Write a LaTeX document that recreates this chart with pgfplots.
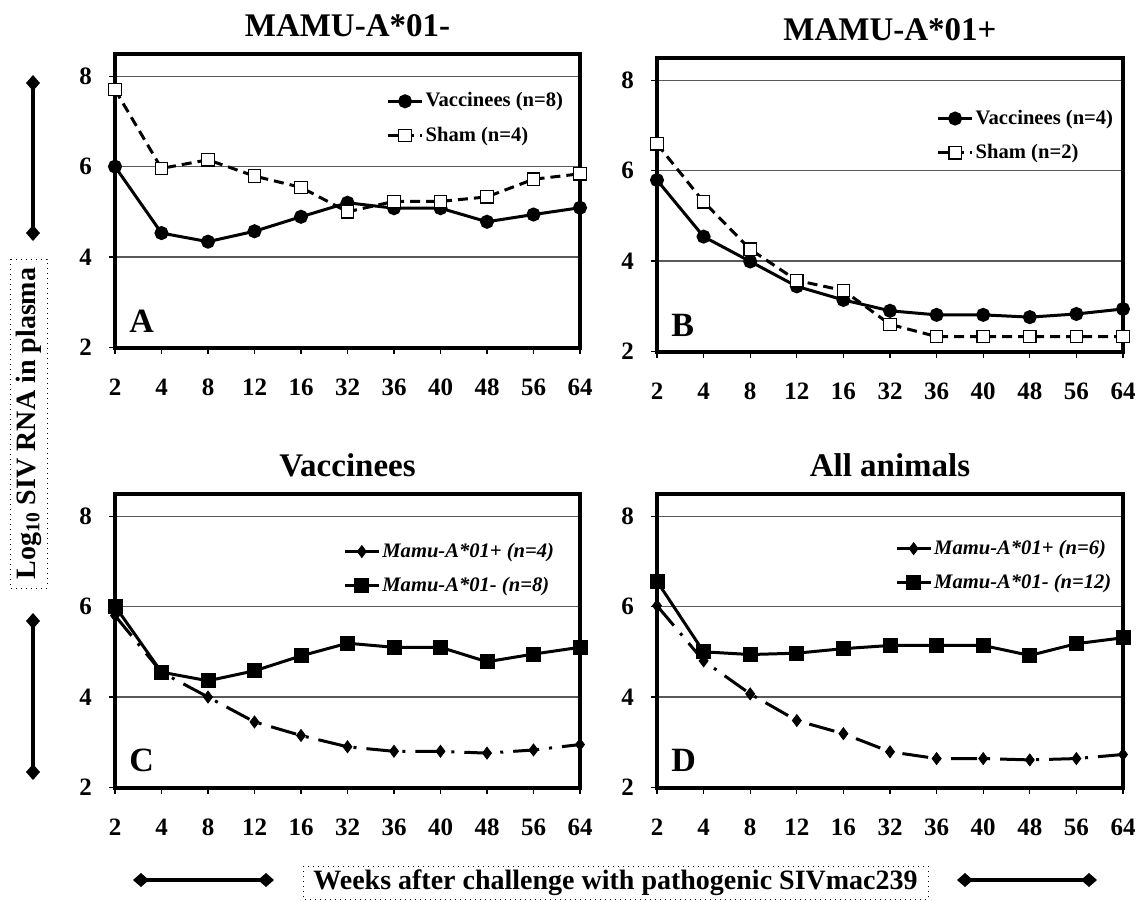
\documentclass[border=0pt]{standalone}
\usepackage{fontspec}
\setmainfont{Liberation Serif}
\usepackage{pgfplots}
\pgfplotsset{compat=1.18}
\usetikzlibrary{arrows.meta}

\tikzset{letter/.style={anchor=base west, inner sep=0pt, font=\bfseries\fontsize{17}{18}\selectfont, xshift=7pt, yshift=7.5pt}}

\pgfplotsset{
  panel/.style={
    scale only axis, width=232.5pt, height=147pt,
    anchor=south west,
    xmin=0, xmax=10, ymin=2, ymax=8.5,
    xtick={0,...,10}, xticklabels={2,4,8,12,16,32,36,40,48,56,64},
    ytick={2,4,6,8},
    ymajorgrids, grid style={black!65, line width=0.6pt},
    axis line style={line width=2pt},
    tick align=outside, major tick length=3pt,
    xtick pos=left, ytick pos=left,
    every tick/.style={black, line width=0.6pt},
    ticklabel style={font=\bfseries\fontsize{12.5}{14}\selectfont},
    /pgf/number format/assume math mode=true,
    xticklabel style={yshift=-9pt},
    yticklabel style={xshift=-5pt},
    every axis title shift=0pt,
    title style={font=\bfseries\fontsize{16.5}{18}\selectfont, at={(0.5,1)}, anchor=center, yshift=14pt},
    clip=false,
    legend style={draw=none, fill=none, inner sep=0pt, anchor=north west,
      font=\bfseries\fontsize{10.3}{12}\selectfont, row sep=6.5pt,
      nodes={inner xsep=1pt, inner ysep=1pt}},
    legend cell align=left,
  },
  vac/.style={black, line width=1.5pt, mark=*, mark size=2.75pt, mark options={solid, fill=black}},
  sham/.style={black, line width=1.5pt, dash pattern=on 5pt off 3pt, mark=square*, mark size=3.1pt, mark options={solid, fill=white, line width=0.6pt}},
  plusleg/.style={black, line width=1.5pt, mark=diamond*, mark size=3pt, mark options={solid, fill=black, line width=0.4pt}},
  plusg/.style={plusleg, dash pattern=on 13pt off 5pt on 1.5pt off 5pt},
  minusg/.style={black, line width=1.5pt, mark=square*, mark size=3pt, mark options={solid, fill=black}},
}

\begin{document}
\begin{tikzpicture}
\path[use as bounding box] (0,0) rectangle (570.5pt,-450pt);

% Panel A
\begin{axis}[panel, at={(57.5pt,-173.75pt)}, title={MAMU-A*01-},
  legend style={at={(axis description cs:0.583,0.875)}}]
\addplot[vac] coordinates {(0,6.00)(1,4.53)(2,4.34)(3,4.57)(4,4.89)(5,5.20)(6,5.08)(7,5.08)(8,4.78)(9,4.94)(10,5.09)};
\addlegendentry{Vaccinees (n=8)}
\addplot[sham] coordinates {(0,7.70)(1,5.96)(2,6.15)(3,5.79)(4,5.54)(5,5.00)(6,5.23)(7,5.23)(8,5.33)(9,5.72)(10,5.84)};
\addlegendentry{Sham (n=4)}
\node[letter] at (axis description cs:0,0) {A};
\end{axis}

% Panel B
\begin{axis}[panel, at={(328.5pt,-175.75pt)}, width=233pt, title={MAMU-A*01+},
  legend style={at={(axis description cs:0.599,0.83)}}]
\addplot[vac] coordinates {(0,5.79)(1,4.54)(2,3.99)(3,3.44)(4,3.14)(5,2.90)(6,2.81)(7,2.81)(8,2.76)(9,2.83)(10,2.94)};
\addlegendentry{Vaccinees (n=4)}
\addplot[sham] coordinates {(0,6.59)(1,5.31)(2,4.26)(3,3.57)(4,3.35)(5,2.60)(6,2.33)(7,2.33)(8,2.33)(9,2.33)(10,2.33)};
\addlegendentry{Sham (n=2)}
\node[letter] at (axis description cs:0,0) {B};
\end{axis}

% Panel C
\begin{axis}[panel, at={(57.5pt,-393.75pt)}, title={Vaccinees},
  legend style={at={(axis description cs:0.49,0.84)}, font=\bfseries\itshape\fontsize{10.3}{12}\selectfont}]
\addlegendimage{plusleg}
\addlegendentry{Mamu-A*01+ (n=4)}
\addplot[plusg, forget plot] coordinates {(0,5.80)(1,4.55)(2,4.00)(3,3.45)(4,3.15)(5,2.90)(6,2.80)(7,2.80)(8,2.76)(9,2.83)(10,2.95)};
\addplot[minusg] coordinates {(0,6.01)(1,4.55)(2,4.36)(3,4.58)(4,4.91)(5,5.19)(6,5.10)(7,5.10)(8,4.78)(9,4.95)(10,5.10)};
\addlegendentry{Mamu-A*01- (n=8)}
\node[letter, yshift=0.5pt] at (axis description cs:0,0) {C};
\end{axis}

% Panel D
\begin{axis}[panel, at={(328.5pt,-393.75pt)}, width=233pt, title={All animals},
  legend style={at={(axis description cs:0.51,0.85)}, font=\bfseries\itshape\fontsize{10.3}{12}\selectfont}]
\addlegendimage{plusleg}
\addlegendentry{Mamu-A*01+ (n=6)}
\addplot[plusg, forget plot] coordinates {(0,6.02)(1,4.80)(2,4.07)(3,3.48)(4,3.19)(5,2.79)(6,2.64)(7,2.64)(8,2.61)(9,2.64)(10,2.73)};
\addplot[minusg] coordinates {(0,6.56)(1,5.00)(2,4.94)(3,4.97)(4,5.07)(5,5.14)(6,5.14)(7,5.14)(8,4.92)(9,5.18)(10,5.31)};
\addlegendentry{Mamu-A*01- (n=12)}
\node[letter, yshift=0.5pt] at (axis description cs:0,0) {D};
\end{axis}

% decorations
\begin{scope}[line width=1.6pt, {Diamond[length=8pt,width=7pt]}-{Diamond[length=8pt,width=7pt]}]
\draw (16.5pt,-37.5pt) -- (16.5pt,-120.5pt);
\draw (16.5pt,-306.5pt) -- (16.5pt,-390pt);
\draw (66.5pt,-440pt) -- (137pt,-440pt);
\draw (478.5pt,-440pt) -- (548.5pt,-440pt);
\end{scope}
\draw[dotted, line width=0.5pt] (5pt,-129.5pt) rectangle (23.5pt,-294pt);
\draw[dotted, line width=0.5pt] (151.5pt,-433pt) rectangle (464pt,-449.5pt);
\node[rotate=90, font=\bfseries\fontsize{14}{16}\selectfont, inner sep=0pt] at (14.25pt,-211.75pt) {Log\textsubscript{10} SIV RNA in plasma};
\node[font=\bfseries\fontsize{14}{16}\selectfont, inner sep=0pt] at (307.75pt,-441.25pt) {Weeks after challenge with pathogenic SIVmac239};
\end{tikzpicture}
\end{document}
